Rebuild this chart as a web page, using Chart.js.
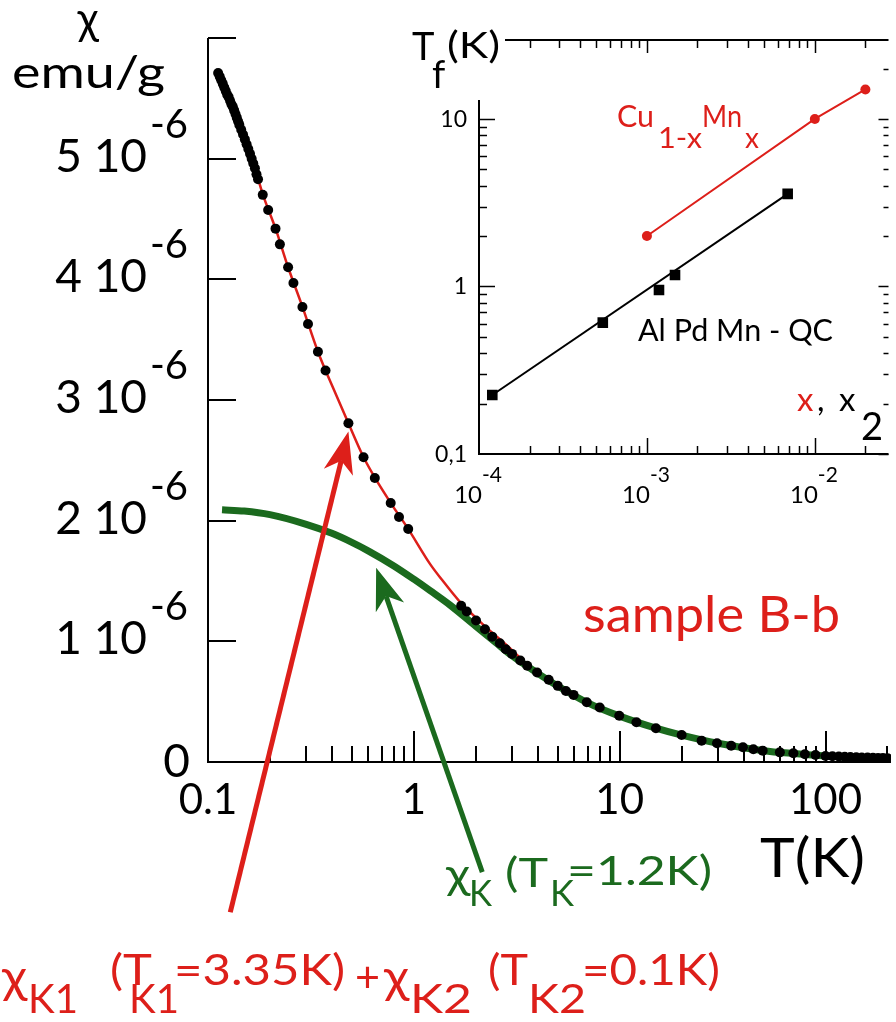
<!DOCTYPE html>
<html>
<head>
<meta charset="utf-8">
<script src="https://cdn.jsdelivr.net/npm/chart.js@4"></script>
<style>
html, body { margin: 0; padding: 0; background: #fff; }
#wrap { position: relative; width: 896px; height: 1022px; }
#wrap canvas { position: absolute; left: 0; top: 0; }
</style>
</head>
<body>
<div id="wrap">
  <canvas id="main" width="896" height="1022"></canvas>
  <canvas id="inset" width="896" height="1022"></canvas>
</div>
<script>
// measured susceptibility, chi in units of 1e-6 emu/g
const tData = [0.112, 0.114, 0.116, 0.118, 0.120, 0.122, 0.124, 0.126, 0.128, 0.130, 0.132, 0.134,
  0.136, 0.138, 0.140, 0.142, 0.145, 0.148, 0.151, 0.154, 0.157, 0.160, 0.163, 0.166, 0.169, 0.172, 0.175,
  0.1845, 0.196, 0.2128, 0.2235, 0.245, 0.260, 0.2876, 0.306, 0.342, 0.3724, 0.481, 0.5697, 0.6463,
  0.772, 0.847, 0.939, 1.698, 1.807, 2.005, 2.216, 2.403, 2.617, 2.797, 3.0, 3.289, 3.555, 3.97, 4.52,
  5.0, 5.48, 5.97, 6.92, 8.0, 9.95, 12.06, 15.0, 20.0, 25.0, 29.7, 34.8, 39.7, 44.6, 49.5, 60, 69.8,
  79.4, 89.4, 100, 108, 116, 124, 132, 141, 150, 160, 170, 180, 190, 200];
const chiData = [5.71, 5.68, 5.65, 5.62, 5.59, 5.56, 5.53, 5.51, 5.48, 5.45, 5.43, 5.40,
  5.37, 5.34, 5.31, 5.28, 5.24, 5.20, 5.16, 5.12, 5.08, 5.04, 5.00, 4.96, 4.92, 4.87, 4.83,
  4.70, 4.575, 4.42, 4.29, 4.10, 3.97, 3.77, 3.63, 3.40, 3.245, 2.807, 2.525, 2.354,
  2.147, 2.031, 1.931, 1.295, 1.247, 1.172, 1.100, 1.039, 0.984, 0.934, 0.896, 0.841, 0.797, 0.741, 0.681,
  0.631, 0.589, 0.556, 0.495, 0.451, 0.384, 0.329, 0.280, 0.224, 0.177, 0.155, 0.135, 0.122, 0.105, 0.094, 0.080, 0.072,
  0.064, 0.058, 0.050, 0.048, 0.046, 0.044, 0.042, 0.040, 0.038, 0.037, 0.035, 0.034, 0.033, 0.032];

// fit chi_K1(3.35K) + chi_K2(0.1K)
const tFit2 = [0.112, 0.133, 0.149, 0.166, 0.185, 0.213, 0.245, 0.288, 0.342, 0.42, 0.481, 0.57, 0.65,
  0.77, 0.94, 1.2, 1.37, 1.65, 2.2, 2.9, 3.3];
const chiFit2 = [5.70, 5.425, 5.19, 4.967, 4.70, 4.42, 4.10, 3.77, 3.40, 3.04, 2.807, 2.525, 2.35,
  2.15, 1.93, 1.64, 1.51, 1.34, 1.13, 0.95, 0.86];

// Kondo term chi_K(1.2K)
const tKondo = [0.117, 0.15, 0.2, 0.3, 0.4, 0.5, 0.6, 0.8, 1.0, 1.2, 1.5, 2.0, 2.5, 3.0, 4.0, 5.0, 7.0,
  10, 15, 20, 30, 50, 70, 100, 150, 208];
const chiKondo = [2.09, 2.08, 2.05, 1.97, 1.895, 1.82, 1.75, 1.625, 1.515, 1.42, 1.30, 1.125, 0.99, 0.88, 0.735, 0.63, 0.49,
  0.38, 0.28, 0.222, 0.155, 0.094, 0.07, 0.05, 0.037, 0.03];

const yTickValues = [0, 1, 2, 3, 4, 5];
const yTickLabels = ['0', '1 10', '2 10', '3 10', '4 10', '5 10'];
const xTickValues = [0.1, 1, 10, 100];
const xTickLabels = ['0.1', '1', '10', '100'];

// arrows, in data coordinates (tail -> tip)
const arrowRed = [[0.1283, -1.245], [0.481, 2.739]];
const arrowGreen = [[2.15, -0.913], [0.656, 1.61]];

// inset: freezing temperature vs concentration
const xCuMn = [1e-3, 1e-2, 2e-2];
const tfCuMn = [2.0, 10, 15];
const x2AlPdMn = [1.2e-4, 5.46e-4, 1.18e-3, 1.47e-3, 6.89e-3];
const tfAlPdMn = [0.225, 0.608, 0.953, 1.17, 3.57];
const x2Fit = [1.2e-4, 6.89e-3];
const tfFit = [0.225, 3.57];
const insetYTicks = [0.1, 1, 10];
const insetYLabels = ['0,1', '1', '10'];
const insetXTicks = [1e-4, 1e-3, 1e-2];
const insetXExp = ['-4', '-3', '-2'];

const RED = '#dd1f1a';
const GREEN = '#1b6a1e';
const FONT = 'Lato, "DejaVu Sans", sans-serif';

function pts(xs, ys) { return xs.map((v, i) => ({ x: v, y: ys[i] })); }

function seg(ctx, x1, y1, x2, y2) {
  ctx.beginPath(); ctx.moveTo(x1, y1); ctx.lineTo(x2, y2); ctx.stroke();
}

// left-aligned text, optionally stretched to a given width
function txt(ctx, s, x, y, size, color, width) {
  ctx.font = size + 'px ' + FONT;
  ctx.fillStyle = color;
  ctx.textAlign = 'left';
  const w = ctx.measureText(s).width;
  ctx.save();
  ctx.translate(x, y);
  if (width) ctx.scale(width / w, 1);
  ctx.fillText(s, 0, 0);
  ctx.restore();
}

function arrow(ctx, x0, y0, x1, y1, color) {
  const dx = x1 - x0, dy = y1 - y0, len = Math.hypot(dx, dy);
  const ux = dx / len, uy = dy / len, nx = -uy, ny = ux;
  const L = 42, W = 15, notch = 30;
  ctx.strokeStyle = color; ctx.fillStyle = color; ctx.lineWidth = 5;
  seg(ctx, x0, y0, x1 - ux * notch, y1 - uy * notch);
  ctx.beginPath();
  ctx.moveTo(x1, y1);
  ctx.lineTo(x1 - ux * L + nx * W, y1 - uy * L + ny * W);
  ctx.lineTo(x1 - ux * notch, y1 - uy * notch);
  ctx.lineTo(x1 - ux * L - nx * W, y1 - uy * L - ny * W);
  ctx.closePath();
  ctx.fill();
}

const mainAxes = {
  id: 'mainAxes',
  afterDraw(chart) {
    const { ctx, chartArea: { left, right, top, bottom }, scales: { x, y } } = chart;
    ctx.save();
    ctx.strokeStyle = '#000';
    ctx.lineWidth = 2;
    ctx.beginPath();
    ctx.moveTo(left, top); ctx.lineTo(left, bottom); ctx.lineTo(right, bottom);
    ctx.stroke();
    for (let v = 1; v <= 6; v++) {
      const py = Math.round(y.getPixelForValue(v));
      seg(ctx, left, py, left + 28, py);
    }
    xTickValues.forEach(d => {
      for (let m = 1; m <= 9; m++) {
        const v = d * m;
        if (v > x.max || (d === 0.1 && m === 1)) continue;
        const px = Math.round(x.getPixelForValue(v));
        seg(ctx, px, bottom, px, bottom - (m === 1 ? 31 : 16));
      }
    });

    // tick labels
    ctx.fillStyle = '#000';
    yTickValues.forEach((v, i) => {
      const py = y.getPixelForValue(v);
      ctx.font = '46px ' + FONT;
      ctx.textAlign = 'right';
      if (v === 0) {
        ctx.fillText('0', left - 18, py + 15);
      } else {
        ctx.fillText(yTickLabels[i], left - 61, py + 13);
        ctx.font = '40px ' + FONT;
        ctx.textAlign = 'left';
        ctx.fillText('-6', left - 58, py - 21);
      }
    });
    ctx.font = '42px ' + FONT;
    ctx.textAlign = 'center';
    xTickValues.forEach((v, i) => {
      ctx.fillText(xTickLabels[i], x.getPixelForValue(v), bottom + 52);
    });

    // axis titles
    ctx.font = '44px ' + FONT;
    ctx.fillText('χ', 88, 34);
    txt(ctx, 'emu/g', 12, 88, 44, '#000', 153);
    txt(ctx, 'T(K)', 760, 877, 54, '#000', 105);
    txt(ctx, 'sample B-b', 583, 632, 50, RED, 257);

    // arrows
    const ap = p => [x.getPixelForValue(p[0]), y.getPixelForValue(p[1])];
    let a = ap(arrowRed[0]), b = ap(arrowRed[1]);
    arrow(ctx, a[0], a[1], b[0], b[1], RED);
    a = ap(arrowGreen[0]); b = ap(arrowGreen[1]);
    arrow(ctx, a[0], a[1], b[0], b[1], GREEN);

    // formula labels
    txt(ctx, 'χ', 446, 889, 42, GREEN, 24);
    txt(ctx, 'K', 469, 906, 36, GREEN, 23);
    txt(ctx, '(T', 505, 887, 40, GREEN, 43);
    txt(ctx, 'K', 550, 906, 36, GREEN, 24);
    txt(ctx, '=1.2K)', 567, 885, 40, GREEN, 145);

    txt(ctx, 'χ', 2, 993, 46, RED, 25);
    txt(ctx, 'K1', 28, 1013, 40, RED, 50);
    txt(ctx, '(T', 110, 985, 42, RED, 42);
    txt(ctx, 'K1', 129, 1013, 40, RED, 50);
    txt(ctx, '=3.35K)', 174, 985, 42, RED, 171);
    txt(ctx, '+', 355, 992, 42, RED, 25);
    txt(ctx, 'χ', 384, 993, 46, RED, 25);
    txt(ctx, 'K2', 410, 1013, 40, RED, 62);
    txt(ctx, '(T', 488, 985, 42, RED, 40);
    txt(ctx, 'K2', 528, 1013, 40, RED, 58);
    txt(ctx, '=0.1K)', 582, 985, 42, RED, 138);
    ctx.restore();
  }
};

new Chart(document.getElementById('main'), {
  type: 'scatter',
  data: {
    datasets: [
      {
        label: 'data',
        data: pts(tData, chiData),
        pointRadius: 5,
        pointBackgroundColor: '#000',
        pointBorderWidth: 0,
        showLine: false,
        order: 0
      },
      {
        label: 'K1 + K2',
        data: pts(tFit2, chiFit2),
        showLine: true,
        borderColor: RED,
        borderWidth: 2.5,
        pointRadius: 0,
        cubicInterpolationMode: 'monotone',
        order: 1
      },
      {
        label: 'K',
        data: pts(tKondo, chiKondo),
        showLine: true,
        borderColor: GREEN,
        borderWidth: 7,
        pointRadius: 0,
        cubicInterpolationMode: 'monotone',
        order: 2
      }
    ]
  },
  plugins: [mainAxes],
  options: {
    responsive: false,
    animation: false,
    events: [],
    layout: { padding: { left: 208, right: 1, top: 38, bottom: 260 } },
    plugins: { legend: { display: false }, tooltip: { enabled: false } },
    scales: {
      x: { type: 'logarithmic', min: 0.1, max: 208, display: false },
      y: { type: 'linear', min: 0, max: 6, display: false }
    }
  }
});

const insetAxes = {
  id: 'insetAxes',
  afterDraw(chart) {
    const { ctx, chartArea: { left, right, top, bottom }, scales: { x, y } } = chart;
    const leftTop = 100, topStart = 505;
    ctx.save();
    ctx.strokeStyle = '#000';
    ctx.lineWidth = 2;
    ctx.beginPath();
    ctx.moveTo(left, leftTop); ctx.lineTo(left, bottom); ctx.lineTo(right, bottom);
    ctx.stroke();
    seg(ctx, topStart, top, right, top);
    ctx.lineWidth = 1.5;
    insetXTicks.forEach(d => {
      for (let m = 1; m <= 9; m++) {
        const v = d * m;
        if (v > x.max) continue;
        const px = Math.round(x.getPixelForValue(v)) + 0.5;
        const major = m === 1;
        if (!(d === 1e-4 && m === 1)) seg(ctx, px, bottom, px, bottom - (major ? 16 : 8));
        if (px >= topStart) seg(ctx, px, top, px, top + (major ? 13 : 8));
      }
    });
    insetYTicks.forEach(d => {
      for (let m = 1; m <= 9; m++) {
        const v = d * m;
        if (v > y.max) continue;
        const py = Math.round(y.getPixelForValue(v)) + 0.5;
        const major = m === 1;
        if (py >= leftTop && !(d === 0.1 && m === 1)) seg(ctx, left, py, left + (major ? 16 : 8), py);
        seg(ctx, right, py, right - (major ? 10 : 5), py);
      }
    });

    ctx.fillStyle = '#000';
    ctx.font = '23px ' + FONT;
    ctx.textAlign = 'right';
    insetYTicks.forEach((v, i) => {
      ctx.fillText(insetYLabels[i], left - 12, y.getPixelForValue(v) + 8);
    });
    insetXTicks.forEach((v, i) => {
      const px = x.getPixelForValue(v);
      ctx.font = '24px ' + FONT;
      ctx.textAlign = 'right';
      ctx.fillText('10', px + 3, bottom + 49);
      ctx.font = '21px ' + FONT;
      ctx.textAlign = 'left';
      ctx.fillText(insetXExp[i], px + 3, bottom + 28);
    });

    txt(ctx, 'T', 412, 60, 38, '#000');
    txt(ctx, 'f', 432, 88, 38, '#000');
    txt(ctx, '(K)', 447, 58, 36, '#000', 53);
    txt(ctx, 'Cu', 617, 127, 30, RED, 37);
    txt(ctx, '1-x', 658, 148, 28, RED, 44);
    txt(ctx, 'Mn', 702, 127, 30, RED, 40);
    txt(ctx, 'x', 745, 148, 28, RED);
    txt(ctx, 'Al Pd Mn - QC', 638, 341, 30, '#000', 195);
    txt(ctx, 'x', 797, 411, 33, RED);
    txt(ctx, ',', 817, 411, 33, '#000');
    txt(ctx, 'x', 839, 411, 33, '#000');
    txt(ctx, '2', 861, 440, 38, '#000');
    ctx.restore();
  }
};

new Chart(document.getElementById('inset'), {
  type: 'scatter',
  data: {
    datasets: [
      {
        label: 'Cu1-xMnx',
        data: pts(xCuMn, tfCuMn),
        showLine: true,
        borderColor: RED,
        borderWidth: 2,
        pointRadius: 5,
        pointBackgroundColor: RED,
        pointBorderWidth: 0
      },
      {
        label: 'AlPdMn fit',
        data: pts(x2Fit, tfFit),
        showLine: true,
        borderColor: '#000',
        borderWidth: 2,
        pointRadius: 0
      },
      {
        label: 'AlPdMn QC',
        data: pts(x2AlPdMn, tfAlPdMn),
        showLine: false,
        pointStyle: 'rect',
        pointRadius: 7.5,
        pointBackgroundColor: '#000',
        pointBorderWidth: 0
      }
    ]
  },
  plugins: [insetAxes],
  options: {
    responsive: false,
    animation: false,
    events: [],
    layout: { padding: { left: 479, right: 0, top: 40, bottom: 568 } },
    plugins: { legend: { display: false }, tooltip: { enabled: false } },
    scales: {
      x: { type: 'logarithmic', min: 1e-4, max: 0.02746, display: false },
      y: { type: 'logarithmic', min: 0.1, max: 29.6, display: false }
    }
  }
});
</script>
</body>
</html>
